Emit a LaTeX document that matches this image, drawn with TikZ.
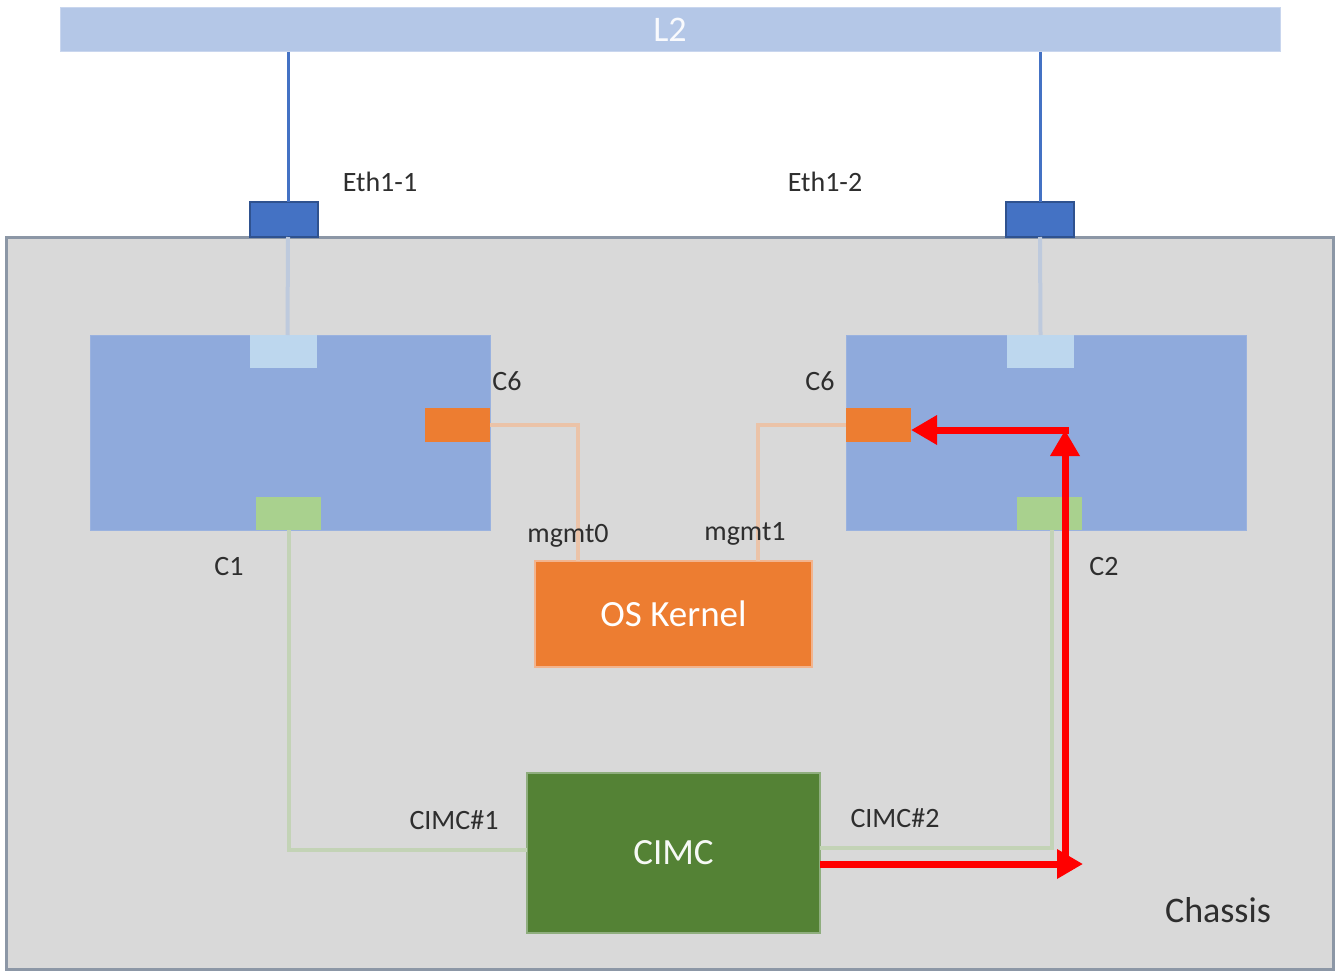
\documentclass[tikz,border=0pt]{standalone}
\usepackage{fontspec}
\setmainfont{Carlito}
\usetikzlibrary{arrows.meta}
\definecolor{l2blue}{HTML}{B4C7E7}
\definecolor{l2edge}{HTML}{C9D6EE}
\definecolor{ethblue}{HTML}{4472C4}
\definecolor{ethdark}{HTML}{2F528F}
\definecolor{chassisgray}{HTML}{D9D9D9}
\definecolor{chassisedge}{HTML}{8C97A6}
\definecolor{cardblue}{HTML}{8FAADC}
\definecolor{portblue}{HTML}{BDD7EE}
\definecolor{orangeC}{HTML}{ED7D31}
\definecolor{orangeedge}{HTML}{F2B48E}
\definecolor{greenport}{HTML}{A9D18E}
\definecolor{cimcgreen}{HTML}{548235}
\definecolor{cimcedge}{HTML}{8FAE7E}
\definecolor{paleorange}{HTML}{EBC3A8}
\definecolor{palegreen}{HTML}{C3D3B6}
\definecolor{paleblue}{HTML}{BECADD}
\definecolor{labeltext}{HTML}{2E2E2E}
\tikzset{
  box/.style={inner sep=0pt, outer sep=0pt, anchor=north west, line width=1pt},
  lbl/.style={font=\fontsize{28}{32}\selectfont, text=labeltext, inner sep=0pt},
  biglbl/.style={font=\fontsize{37}{40}\selectfont},
  upline/.style={draw=ethblue, line width=3pt},
  bline/.style={draw=paleblue, line width=4pt},
  oline/.style={draw=paleorange, line width=4pt},
  gline/.style={draw=palegreen, line width=4pt},
  redarr/.style={draw=red, line width=7pt, -{Triangle[length=26pt,width=28pt]}},
}
\begin{document}
\begin{tikzpicture}[x=1pt,y=-1pt]
\useasboundingbox (0,0) rectangle (1340,971);
\fill[white] (0,0) rectangle (1340,971);
% L2 bar
\node[box, fill=l2blue, draw=l2edge, minimum width=1220pt, minimum height=44pt,
      text=white!92!l2blue, font=\fontsize{36}{40}\selectfont] (L2) at (60,8) {L2};
% chassis
\node[box, fill=chassisgray, draw=chassisedge, line width=3pt,
      minimum width=1327pt, minimum height=732pt] (chassis) at (6,237) {};
% ethernet ports
\node[box, fill=ethblue, draw=ethdark, line width=1.5pt, minimum width=68pt, minimum height=35pt] (eth1) at (250,202) {};
\node[box, fill=ethblue, draw=ethdark, line width=1.5pt, minimum width=68pt, minimum height=35pt] (eth2) at (1006,202) {};
\draw[upline] ([xshift=4pt]eth1.north |- L2.south) -- ([xshift=4pt]eth1.north);
\draw[upline] (eth2.north |- L2.south) -- (eth2.north);
% cards
\node[box, fill=cardblue, draw=cardblue!90!white, minimum width=400pt, minimum height=195pt] (cardl) at (90,335) {};
\node[box, fill=cardblue, draw=cardblue!90!white, minimum width=400pt, minimum height=195pt] (cardr) at (846,335) {};
% card ports
\node[box, fill=portblue, minimum width=67pt, minimum height=33pt] (pl) at (250,335) {};
\node[box, fill=portblue, minimum width=67pt, minimum height=33pt] (pr) at (1007,335) {};
\node[box, fill=orangeC, minimum width=65pt, minimum height=34pt] (c6l) at (425,408) {};
\node[box, fill=orangeC, minimum width=65pt, minimum height=34pt] (c6r) at (846,408) {};
\node[box, fill=greenport, minimum width=65pt, minimum height=33pt] (gl) at (256,497) {};
\node[box, fill=greenport, minimum width=65pt, minimum height=33pt] (gr) at (1017,497) {};
\draw[bline] ([xshift=4pt]eth1.south) -- ([xshift=4pt]pl.north);
\draw[bline] (eth2.south) -- (pr.north);
% OS kernel and CIMC
\node[box, fill=orangeC, draw=orangeedge, line width=2pt, minimum width=277pt, minimum height=106pt,
      text=white, biglbl] (kernel) at (535,561) {OS Kernel};
\node[box, fill=cimcgreen, draw=cimcedge, line width=2pt, minimum width=293pt, minimum height=160pt,
      text=white!95!cimcgreen, biglbl] (cimc) at (527,773) {CIMC};
% pale connectors
\draw[oline] (c6l.east) -| ([xshift=43pt]kernel.north west);
\draw[oline] (c6r.west) -| ([xshift=-54pt]kernel.north east);
\draw[gline] (gl.south) |- ([yshift=3pt]cimc.west);
\draw[gline] ([yshift=5pt]cimc.east) -| ([xshift=2pt]gr.south);
% labels
\node[lbl] (teth1) at (380,182) {Eth1-1};
\node[lbl] (teth2) at (825,182) {Eth1-2};
\node[lbl] (tc6l) at (507,381) {C6};
\node[lbl] (tc6r) at (820,381) {C6};
\node[lbl] (tc1) at (229,567) {C1};
\node[lbl] (tc2) at (1104,567) {C2};
\node[lbl] (tm0) at (568,536) {mgmt0};
\node[lbl] (tm1) at (745,534) {mgmt1};
\node[lbl] (tci1) at (454,820) {CIMC\#1};
\node[lbl] (tci2) at (895,818) {CIMC\#2};
\node[lbl, font=\fontsize{36}{40}\selectfont] (tch) at (1218,910) {Chassis};
% red path
\coordinate (rb) at (1065,864);
\coordinate (rt) at (1065,430);
\draw[redarr] (cimc.east |- rb) -- ([xshift=18pt]rb);
\draw[redarr] ([yshift=-6pt]rb) -- (rt);
\draw[redarr] ([xshift=3.5pt]rt) -- (c6r.east |- rt);
\end{tikzpicture}
\end{document}
